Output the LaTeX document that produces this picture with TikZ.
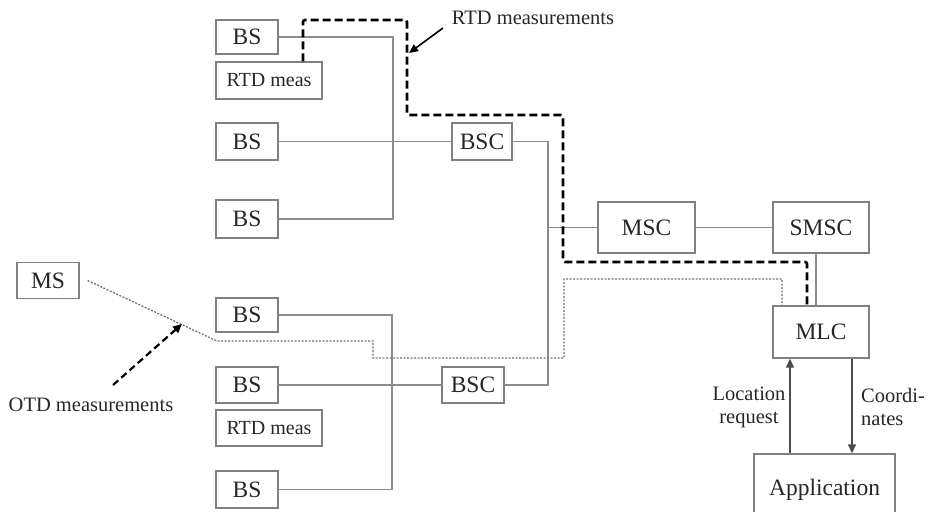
\documentclass[tikz,border=0pt]{standalone}
\usepackage{fontspec}
\setmainfont{Liberation Serif}
\usepackage{tikz}
\usetikzlibrary{arrows.meta}
\newcommand{\unitlen}{1pt}
\newcommand{\boxfont}{\fontsize{23.5}{26}\selectfont}
\newcommand{\measfont}{\fontsize{20}{23}\selectfont}
\newcommand{\notefont}{\fontsize{20.5}{23}\selectfont}

\begin{document}
\begin{tikzpicture}[x=\unitlen,y=-\unitlen,
	box/.style={draw=black!50, line width=1.3pt, inner sep=0pt, minimum width=62pt, minimum height=36pt, font=\boxfont, text=black!85},
	link/.style={draw=black!45, line width=1.5pt},
	rtdpath/.style={draw=black, line width=2.6pt, dash pattern=on 8pt off 4pt, rounded corners=2pt},
	otdpath/.style={draw=black!55, line width=1.3pt, dash pattern=on 2pt off 1.5pt},
	note/.style={font=\notefont, text=black!85, inner sep=0pt},
	tip/.style={-{Triangle[length=9pt,width=8pt]}}]
	\useasboundingbox (0,0) rectangle (928,511);
	\clip (0,0) rectangle (928,511);

	\node[box, minimum height=34pt] (bs1) at (247,37) {BS};
	\node[box, minimum width=106pt, minimum height=37pt, font=\measfont] (rtd1) at (269,80.5) {RTD meas};
	\node[box, minimum height=37pt] (bs2) at (247,141.5) {BS};
	\node[box, minimum height=38pt] (bs3) at (247,219) {BS};
	\node[box, minimum width=60pt, minimum height=37pt] (bsc1) at (482,141.5) {BSC};

	\node[box] (ms) at (48,280.5) {MS};
	\node[box, minimum height=34pt] (bs4) at (247,315) {BS};
	\node[box] (bs5) at (247,385) {BS};
	\node[box, minimum width=106pt, font=\measfont] (rtd2) at (269,428) {RTD meas};
	\node[box, minimum height=37pt] (bs6) at (247,489.5) {BS};
	\node[box] (bsc2) at (473,385) {BSC};

	\node[box, minimum width=97pt, minimum height=51pt] (msc) at (646.5,227.5) {MSC};
	\node[box, minimum width=96pt, minimum height=51pt] (smsc) at (821,227.5) {SMSC};
	\node[box, minimum width=96pt, minimum height=52pt] (mlc) at (821,332) {MLC};
	\node[box, minimum width=141pt, minimum height=66pt, text depth=0pt] (app) at (824.5,487) {Application};

	\coordinate (bus1) at (393,0);
	\coordinate (bus2) at (392,0);
	\coordinate (bus3) at (548,0);
	\coordinate (req) at (790,0);
	\coordinate (coord) at (852,0);

	\draw[link] (bs1.east) -- (bs1.east -| bus1) -- (bs3.east -| bus1) -- (bs3.east);
	\draw[link] (bs2) -- (bsc1);
	\draw[link] (bsc1.east) -- (bsc1.east -| bus3) -- (bsc2.east -| bus3) -- (bsc2.east);
	\draw[link] (msc.west -| bus3) -- (msc.west);
	\draw[link] (msc) -- (smsc);
	\draw[link] ([xshift=-5pt]smsc.south) -- ([xshift=-5pt]mlc.north);
	\draw[link] (bs4.east) -- (bs4.east -| bus2) -- (bs6.east -| bus2) -- (bs6.east);
	\draw[link] (bs5) -- (bsc2);

	\draw[link, draw=black!70, tip] (app.north -| req) -- (mlc.south -| req);
	\draw[link, draw=black!70, tip] (mlc.south -| coord) -- (app.north -| coord);
	\node[note, align=center] (reqlab) at (749,407) {Location\\request};
	\node[note, align=left, anchor=west] (coordlab) at (861,407) {Coordi-\\nates};

	\draw[rtdpath] (rtd1.north -| 303,0) -- (303,20) -- (407,20) -- (407,115) -- (563,115)
		-- (563,262) -- (807,262) -- (mlc.north -| 807,0);
	\draw[otdpath] ([xshift=8pt]ms.east) -- (217,341) -- (373,341) -- (373,358) -- (564,358)
		-- (564,279) -- (782,279) -- (mlc.north -| 782,0);

	\node[note] (rtdlab) at (533,18) {RTD measurements};
	\coordinate (rtdtail) at (443,28);
	\coordinate (rtdtip) at (409,53);
	\draw[black, line width=1.6pt, tip] (rtdtail) -- (rtdtip);

	\node[note] (otdlab) at (91,405) {OTD measurements};
	\coordinate (otdtail) at (113,385);
	\coordinate (otdtip) at (182,324);
	\draw[black, line width=2.2pt, dash pattern=on 7pt off 4pt, tip] (otdtail) -- (otdtip);

\end{tikzpicture}
\end{document}
